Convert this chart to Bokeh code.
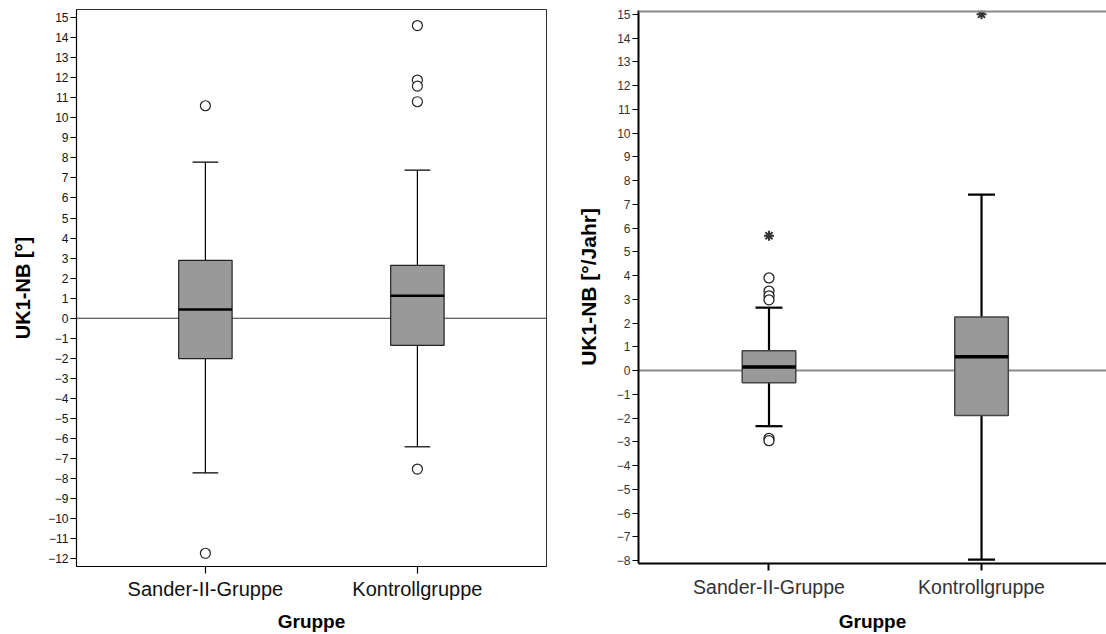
from bokeh.plotting import figure
from bokeh.layouts import row, column
from bokeh.models import Span, FixedTicker, Range1d
from bokeh.embed import file_html
from bokeh.resources import INLINE

# ---------------- data ----------------
groups = ["Sander-II-Gruppe", "Kontrollgruppe"]
group_pos = [0, 1]

# left chart: UK1-NB [°]
l_q1 = [-2.01, -1.35]
l_med = [0.44, 1.12]
l_q3 = [2.89, 2.64]
l_lo = [-7.71, -6.41]
l_hi = [7.79, 7.39]
l_out_group = [0, 0, 1, 1, 1, 1, 1]
l_out_val = [10.6, -11.72, 14.6, 11.88, 11.58, 10.8, -7.52]
l_ticks = list(range(-12, 16))

# right chart: UK1-NB [°/Jahr]
r_q1 = [-0.51, -1.89]
r_med = [0.15, 0.58]
r_q3 = [0.84, 2.26]
r_lo = [-2.34, -7.96]
r_hi = [2.65, 7.41]
r_circ_group = [0, 0, 0, 0, 0, 0]
r_circ_val = [3.9, 3.35, 3.15, 2.98, -2.85, -2.95]
r_star_group = [0, 1]
r_star_val = [5.68, 15.0]
r_ticks = list(range(-8, 16))

FONT = "Liberation Sans"


def make_panel(width, height, xr, yr, ticks, ylabel, q1, med, q3, lo, hi,
               circ_g, circ_v, star_g, star_v, style):
    p = figure(width=width, height=height, output_backend="svg",
               toolbar_location=None, x_range=Range1d(*xr), y_range=Range1d(*yr),
               min_border_left=style["mbl"], min_border_right=style["mbr"],
               min_border_top=style["mbt"], min_border_bottom=style["mbb"])
    p.xgrid.visible = False
    p.ygrid.visible = False
    p.background_fill_color = "white"
    p.border_fill_color = "white"
    if style["outline"]:
        p.outline_line_color = style["outline_color"]
        p.outline_line_width = 1
    else:
        p.outline_line_color = None
        p.add_layout(Span(location=yr[1] - 0.03, dimension="width",
                          line_color="#8a8a8a", line_width=2.5))

    # zero reference line
    p.add_layout(Span(location=0, dimension="width", line_color=style["zero_color"],
                      line_width=style["zero_w"], level="underlay"))

    bw = style["box_w"]
    cw = style["cap_w"]
    # whiskers
    p.segment(x0=group_pos, y0=q3, x1=group_pos, y1=hi, line_color="black",
              line_width=style["wh_w"])
    p.segment(x0=group_pos, y0=q1, x1=group_pos, y1=lo, line_color="black",
              line_width=style["wh_w"])
    p.segment(x0=[g - cw / 2 for g in group_pos], y0=hi,
              x1=[g + cw / 2 for g in group_pos], y1=hi,
              line_color="black", line_width=style["wh_w"])
    p.segment(x0=[g - cw / 2 for g in group_pos], y0=lo,
              x1=[g + cw / 2 for g in group_pos], y1=lo,
              line_color="black", line_width=style["wh_w"])
    # boxes
    p.vbar(x=group_pos, top=q3, bottom=q1, width=bw, fill_color="#999999",
           line_color=style["box_line"], line_width=style["box_lw"])
    # medians
    p.segment(x0=[g - bw / 2 for g in group_pos], y0=med,
              x1=[g + bw / 2 for g in group_pos], y1=med,
              line_color="black", line_width=style["med_w"])
    # outliers
    if circ_v:
        p.scatter(x=circ_g, y=circ_v, marker="circle", size=10,
                  fill_color="white", line_color="#222222",
                  line_width=style["circ_lw"])
    if star_v:
        p.scatter(x=star_g, y=star_v, marker="asterisk", size=10,
                  line_color="#333333", line_width=2)

    # axes
    xa = p.xaxis[0]
    xa.ticker = FixedTicker(ticks=group_pos)
    xa.major_label_overrides = {g: n for g, n in zip(group_pos, groups)}
    xa.minor_tick_line_color = None
    xa.major_tick_in = 0
    xa.major_tick_out = 7
    xa.major_label_text_font = FONT
    xa.major_label_text_font_size = style["xtick_size"]
    xa.major_label_text_color = style["txt"]
    xa.major_label_standoff = style["xtick_standoff"]
    xa.axis_label = "Gruppe"
    xa.axis_label_text_font = FONT
    xa.axis_label_text_font_style = "bold"
    xa.axis_label_text_font_size = "19px"
    xa.axis_label_text_color = "black"
    xa.axis_label_standoff = style["xlab_standoff"]
    xa.axis_line_width = style["axis_w"]
    xa.major_tick_line_width = style["axis_w"]

    ya = p.yaxis[0]
    ya.ticker = FixedTicker(ticks=ticks)
    ya.minor_tick_line_color = None
    ya.major_tick_in = 0
    ya.major_tick_out = 6
    ya.major_label_text_font = FONT
    ya.major_label_text_font_size = "12px"
    ya.major_label_text_color = style["txt"]
    ya.major_label_standoff = 2
    ya.axis_label = ylabel
    ya.axis_label_text_font = FONT
    ya.axis_label_text_font_style = "bold"
    ya.axis_label_text_font_size = style["ylab_size"]
    ya.axis_label_text_color = "black"
    ya.axis_label_standoff = style["ylab_standoff"]
    ya.axis_line_width = style["axis_w"]
    ya.major_tick_line_width = 1
    return p


left_style = dict(mbl=76, mbr=14, mbt=9, mbb=67, outline=True, outline_color="#333333",
                  zero_color="#333333", zero_w=1, box_w=0.252, cap_w=0.121,
                  wh_w=1.2, box_line="#222222", box_lw=1.2, med_w=2.5, circ_lw=1.2,
                  txt="#111111", axis_w=1.2, ylab_size="20px", ylab_standoff=11,
                  xtick_size="20px", xtick_standoff=4, xlab_standoff=8)
right_style = dict(mbl=78, mbr=0, mbt=10, mbb=70, outline=False, outline_color=None,
                   zero_color="#8a8a8a", zero_w=2, box_w=0.252, cap_w=0.127,
                   wh_w=2.2, box_line="#444444", box_lw=1.5, med_w=3.5, circ_lw=1.3,
                   txt="#333333", axis_w=2, ylab_size="21px", ylab_standoff=14,
                   xtick_size="19.5px", xtick_standoff=5, xlab_standoff=10)

p1 = make_panel(560, 634, (-0.608, 1.609), (-12.38, 15.4), l_ticks, "UK1-NB [°]",
                l_q1, l_med, l_q3, l_lo, l_hi, l_out_group, l_out_val, [], [], left_style)
p2 = make_panel(546, 634, (-0.614, 1.588), (-8.12, 15.16), r_ticks, "UK1-NB [°/Jahr]",
                r_q1, r_med, r_q3, r_lo, r_hi, r_circ_group, r_circ_val,
                r_star_group, r_star_val, right_style)

layout = row(column(p1), column(p2))
open("out.html", "w").write(file_html(layout, INLINE))
